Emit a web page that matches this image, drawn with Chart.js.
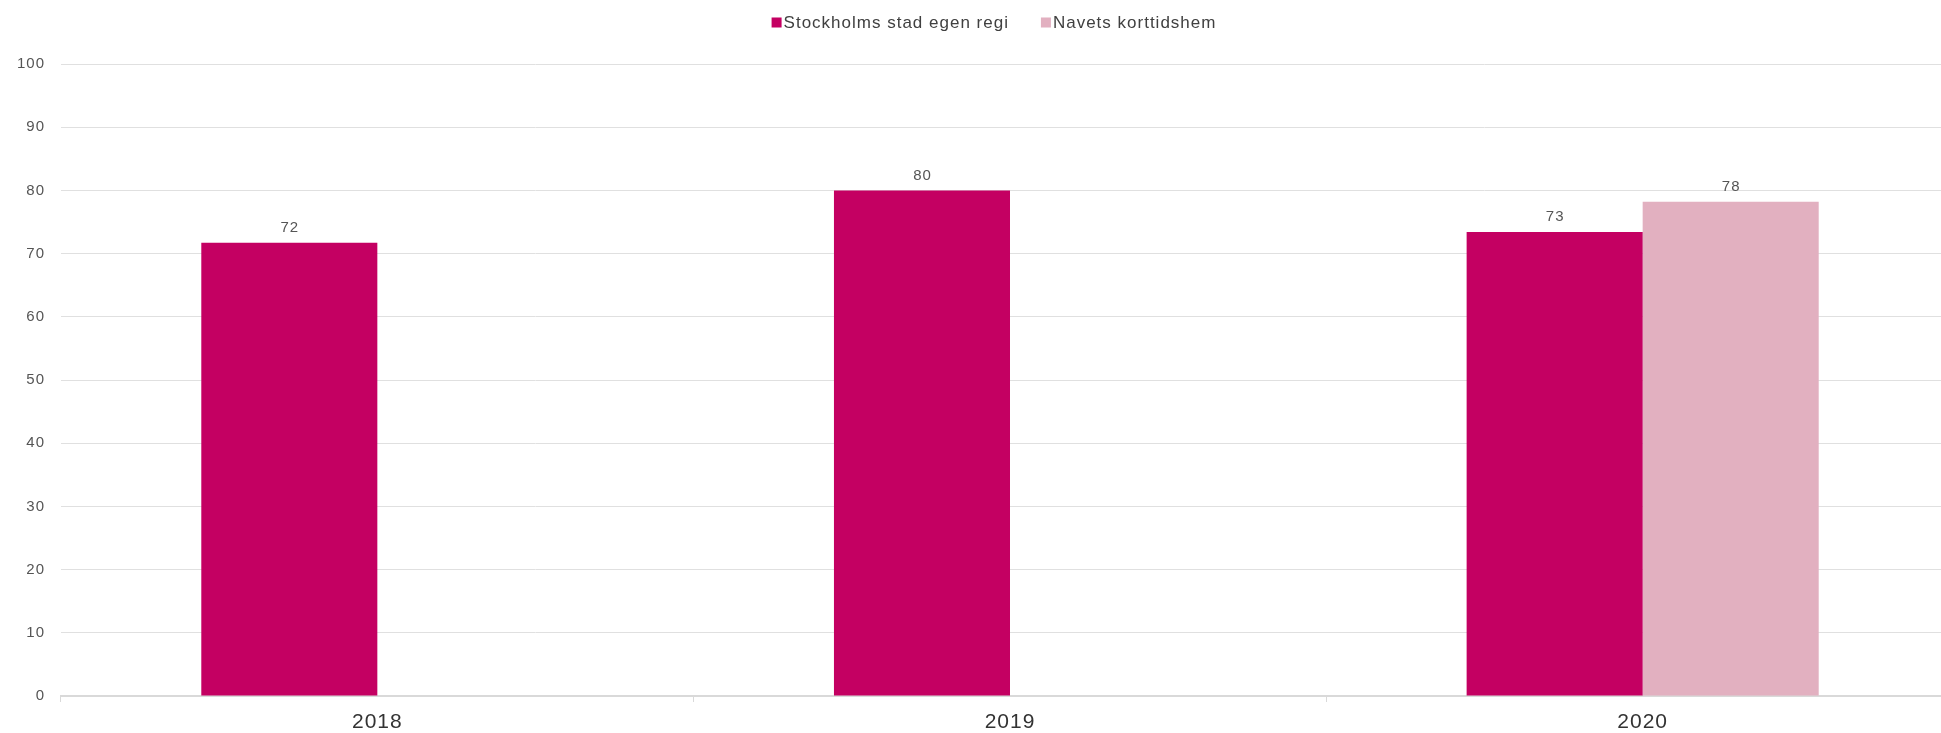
<!DOCTYPE html>
<html>
<head>
<meta charset="utf-8">
<script src="https://cdn.jsdelivr.net/npm/chart.js@4"></script>
<style>
  html, body { margin: 0; padding: 0; background: #ffffff; overflow: hidden; }
  #wrap { position: relative; width: 1959px; height: 733px; }
</style>
</head>
<body>
<div id="wrap"><canvas id="c"></canvas></div>
<script>
const categories = ['2018', '2019', '2020'];
const seriesNames = ['Stockholms stad egen regi', 'Navets korttidshem'];
const stockholmValues = [71.7, 80.0, 73.4];
const navetValues = [null, null, 78.2];
const yTicks = [0, 10, 20, 30, 40, 50, 60, 70, 80, 90, 100];
const seriesColors = ['#C40062', '#E2B0C0'];

const FONT = '"Liberation Sans", Arial, sans-serif';

const spacingPlugin = {
  id: 'spacing',
  beforeInit(chart) { chart.ctx.letterSpacing = '1px'; },
  beforeUpdate(chart) { chart.ctx.letterSpacing = '1px'; },
  beforeLayout(chart) { chart.ctx.letterSpacing = '1px'; },
  beforeDraw(chart) { chart.ctx.letterSpacing = '1px'; },
  resize(chart) { chart.ctx.letterSpacing = '1px'; }
};

const valueLabelPlugin = {
  id: 'valueLabels',
  afterDatasetsDraw(chart) {
    const ctx = chart.ctx;
    ctx.save();
    ctx.letterSpacing = '1px';
    ctx.font = '15px ' + FONT;
    ctx.fillStyle = '#555555';
    ctx.textAlign = 'center';
    ctx.textBaseline = 'middle';
    chart.data.datasets.forEach((ds, i) => {
      const meta = chart.getDatasetMeta(i);
      meta.data.forEach((bar, j) => {
        const v = ds.data[j];
        if (v === null || v === undefined) return;
        ctx.fillText(String(Math.round(v)), bar.x + 0.5, bar.y - 15);
      });
    });
    ctx.restore();
  }
};

const legendPlugin = {
  id: 'customLegend',
  afterDraw(chart) {
    const ctx = chart.ctx;
    ctx.save();
    ctx.letterSpacing = '1px';
    ctx.font = '17px ' + FONT;
    ctx.textBaseline = 'middle';
    ctx.textAlign = 'left';
    const box = 10, gapText = 2, gapItem = 32;
    const items = chart.data.datasets.map(ds => ({
      text: ds.label, color: ds.backgroundColor,
      w: box + gapText + ctx.measureText(ds.label).width
    }));
    const total = items.reduce((s, it) => s + it.w, 0) + gapItem * (items.length - 1);
    let x = 994 - total / 2;
    const cy = 23;
    items.forEach(it => {
      ctx.fillStyle = it.color;
      ctx.fillRect(x, cy - 5.5, box, box);
      ctx.fillStyle = '#404040';
      ctx.fillText(it.text, x + box + gapText, cy);
      x += it.w + gapItem;
    });
    ctx.restore();
  }
};

new Chart(document.getElementById('c'), {
  type: 'bar',
  data: {
    labels: categories,
    datasets: [
      { label: seriesNames[0], data: stockholmValues, backgroundColor: seriesColors[0], borderWidth: 0 },
      { label: seriesNames[1], data: navetValues, backgroundColor: seriesColors[1], borderWidth: 0 }
    ]
  },
  options: {
    responsive: true,
    maintainAspectRatio: false,
    animation: false,
    layout: { padding: { top: 64, left: 0, right: 0, bottom: 0 } },
    datasets: { bar: { categoryPercentage: 0.5565, barPercentage: 1.0 } },
    plugins: {
      legend: { display: false },
      tooltip: { enabled: false }
    },
    scales: {
      x: {
        offset: true,
        grid: { display: true, drawOnChartArea: false, drawTicks: true, tickLength: 6, color: '#d9d9d9', offset: true },
        border: { display: true, color: '#d9d9d9', width: 2 },
        ticks: { color: '#333333', font: { family: FONT, size: 21 }, padding: 8, maxRotation: 0 },
        afterFit(scale) { scale.height = 37; }
      },
      y: {
        min: 0, max: 100,
        afterBuildTicks(scale) { scale.ticks = yTicks.map(v => ({ value: v })); },
        grid: { color: '#e0e0e0', lineWidth: 1, drawTicks: false },
        border: { display: false },
        ticks: { color: '#555555', font: { family: FONT, size: 15 }, padding: 16 },
        afterFit(scale) { scale.width = 61; }
      }
    }
  },
  plugins: [spacingPlugin, valueLabelPlugin, legendPlugin]
});
</script>
</body>
</html>
